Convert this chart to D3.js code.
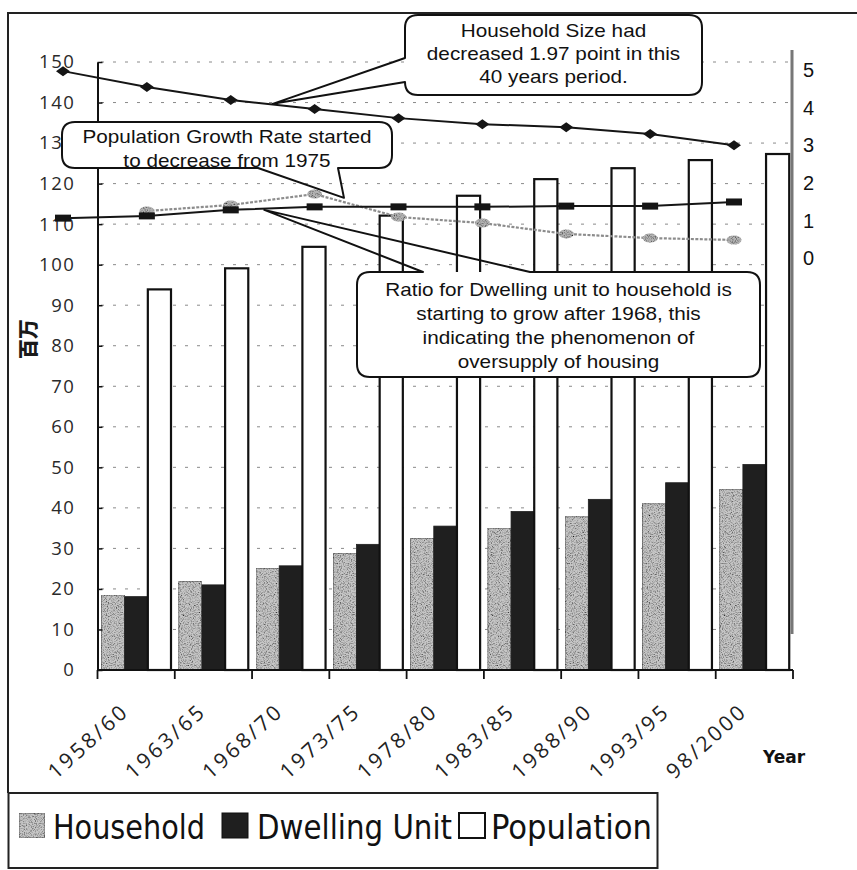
<!DOCTYPE html>
<html>
<head>
<meta charset="utf-8">
<script src="https://cdn.jsdelivr.net/npm/d3@7"></script>
<style>
  html, body { margin: 0; padding: 0; background: #fff; }
  svg { display: block; }
</style>
</head>
<body>
<div id="chart"></div>
<script>
// Housing stock, households and population (millions), with three ratio series
const categories = ["1958/60", "1963/65", "1968/70", "1973/75", "1978/80", "1983/85", "1988/90", "1993/95", "98/2000"];
const household  = [18.5, 21.8, 25.1, 28.8, 32.5, 35.0, 37.8, 41.0, 44.6];
const dwelling   = [18.1, 21.0, 25.7, 31.0, 35.5, 39.1, 42.1, 46.2, 50.7];
const population = [93.9, 99.1, 104.4, 112.1, 117.0, 121.1, 123.8, 125.8, 127.3];

// Right-axis series
const householdSize = [4.97, 4.55, 4.20, 3.96, 3.72, 3.56, 3.48, 3.30, 3.00];
const dwellingRatio = [1.06, 1.12, 1.28, 1.36, 1.36, 1.36, 1.38, 1.38, 1.49];
const popGrowth     = [null, 1.25, 1.41, 1.70, 1.09, 0.93, 0.64, 0.53, 0.48];

const leftTicks  = [0, 10, 20, 30, 40, 50, 60, 70, 80, 90, 100, 110, 120, 130, 140, 150];
const rightTicks = [0, 1, 2, 3, 4, 5];
const seriesKeys = ["Household", "Dwelling Unit", "Population"];

const W = 857, H = 870;
const svg = d3.select("#chart").append("svg").attr("width", W).attr("height", H);
const defs = svg.append("defs");

// speckled grey used for the household bars and growth-rate markers
const grain = defs.append("filter").attr("id", "grain")
  .attr("x", 0).attr("y", 0).attr("width", 1).attr("height", 1);
grain.append("feTurbulence").attr("type", "fractalNoise").attr("baseFrequency", 0.9)
  .attr("numOctaves", 2).attr("seed", 7).attr("result", "noise");
grain.append("feColorMatrix").attr("in", "noise").attr("type", "matrix")
  .attr("values", "0 0 0 0 0  0 0 0 0 0  0 0 0 0 0  2.2 0 0 0 -0.95").attr("result", "specks");
grain.append("feComposite").attr("in", "specks").attr("in2", "SourceGraphic")
  .attr("operator", "in").attr("result", "clipped");
const gm = grain.append("feMerge");
gm.append("feMergeNode").attr("in", "SourceGraphic");
gm.append("feMergeNode").attr("in", "clipped");

// scales
const y = d3.scaleLinear().domain([0, 150]).range([670, 62]);
const yR = d3.scaleLinear().domain([0, 5]).range([258, 70]);
const xBand = d3.scaleBand().domain(categories).range([97.5, 793]);
const xSub = d3.scaleBand().domain(seriesKeys).range([4, 73.5]);
const xL = d3.scalePoint().domain(categories).range([63, 734]);
const xAt = t => xL(categories[0]) + t * xL.step();

// outer frame
svg.append("path").attr("d", "M8,793 V13 H857")
  .attr("fill", "none").attr("stroke", "#222").attr("stroke-width", 2);

// dashed gridlines
svg.append("g").selectAll("line").data(leftTicks.filter(v => v > 0)).join("line")
  .attr("x1", 101).attr("x2", 789)
  .attr("y1", d => y(d)).attr("y2", d => y(d))
  .attr("stroke", "#8a8a8a").attr("stroke-width", 1).attr("stroke-dasharray", "3,9");

// bars
const barData = categories.map((c, i) => ({
  cat: c,
  vals: [
    { key: "Household", v: household[i] },
    { key: "Dwelling Unit", v: dwelling[i] },
    { key: "Population", v: population[i] }
  ]
}));
const barStyle = {
  "Household":     { fill: "#c6c6c6", stroke: "#6a6a6a", sw: 0.8, filter: "url(#grain)" },
  "Dwelling Unit": { fill: "#1f1f1f", stroke: "#1f1f1f", sw: 0.8, filter: null },
  "Population":    { fill: "#ffffff", stroke: "#111", sw: 2.2, filter: null }
};
const groups = svg.append("g").selectAll("g").data(barData).join("g")
  .attr("transform", d => `translate(${xBand(d.cat)},0)`);
groups.selectAll("rect").data(d => d.vals).join("rect")
  .attr("x", d => xSub(d.key))
  .attr("width", xSub.bandwidth())
  .attr("y", d => y(d.v))
  .attr("height", d => y(0) - y(d.v))
  .attr("fill", d => barStyle[d.key].fill)
  .attr("stroke", d => barStyle[d.key].stroke)
  .attr("stroke-width", d => barStyle[d.key].sw)
  .attr("filter", d => barStyle[d.key].filter);

// left axis
const yAxis = d3.axisLeft(y).tickValues(leftTicks).tickSize(-5).tickSizeOuter(0).tickPadding(22);
const gy = svg.append("g").attr("transform", "translate(97.5,0)").call(yAxis);
gy.select(".domain").attr("stroke", "#111").attr("stroke-width", 2);
gy.selectAll(".tick line").attr("stroke", "#111").attr("stroke-width", 1.5);
gy.selectAll(".tick text")
  .attr("font-family", "'Open Sans', sans-serif").attr("font-size", 18.5)
  .attr("letter-spacing", 1.6).attr("fill", "#2a2a2a");

// y-axis unit label
svg.append("text").attr("transform", "translate(36,339) rotate(-90)")
  .attr("text-anchor", "middle")
  .attr("font-family", "'Noto Sans CJK SC', sans-serif").attr("font-weight", 900)
  .attr("font-size", 20).attr("fill", "#1a1a1a").text("百万");

// x axis: baseline with ticks on category boundaries
const gx = svg.append("g");
gx.append("line").attr("x1", xBand.range()[0]).attr("x2", xBand.range()[1])
  .attr("y1", y(0)).attr("y2", y(0)).attr("stroke", "#111").attr("stroke-width", 2.2);
const bounds = categories.map(c => xBand(c)).concat([xBand.range()[1]]);
gx.selectAll("line.tk").data(bounds).join("line").attr("class", "tk")
  .attr("x1", d => d).attr("x2", d => d)
  .attr("y1", y(0)).attr("y2", y(0) + 9)
  .attr("stroke", "#111").attr("stroke-width", 1.8);
gx.selectAll("text").data(categories).join("text")
  .attr("transform", d => `translate(${xBand(d) + xBand.bandwidth() / 2 - 8},715) rotate(-42)`)
  .attr("text-anchor", "end")
  .attr("font-family", "'Open Sans', sans-serif").attr("font-size", 21)
  .attr("textLength", 97).attr("lengthAdjust", "spacing")
  .attr("fill", "#222").text(d => d);

svg.append("text").attr("x", 763).attr("y", 763)
  .attr("font-family", "'DejaVu Sans', sans-serif").attr("font-weight", "bold")
  .attr("font-size", 17).attr("fill", "#111").text("Year");

// right axis
svg.append("line").attr("x1", 792).attr("x2", 792).attr("y1", 50).attr("y2", 634)
  .attr("stroke", "#777").attr("stroke-width", 3);
svg.append("g").selectAll("text").data(rightTicks).join("text")
  .attr("x", 803).attr("y", d => yR(d)).attr("dy", "0.36em")
  .attr("font-family", "'Liberation Sans', Arial, sans-serif").attr("font-size", 20)
  .attr("fill", "#111").text(d => d);

// right-axis line series
const lineGen = d3.line()
  .defined(d => d != null)
  .x((d, i) => xL(categories[i]))
  .y(d => yR(d));

svg.append("path").datum(popGrowth).attr("d", lineGen)
  .attr("fill", "none").attr("stroke", "#8c8c8c").attr("stroke-width", 2.2)
  .attr("stroke-dasharray", "3,1.5");
svg.append("path").datum(dwellingRatio).attr("d", lineGen)
  .attr("fill", "none").attr("stroke", "#151515").attr("stroke-width", 2);
svg.append("path").datum(householdSize).attr("d", lineGen)
  .attr("fill", "none").attr("stroke", "#151515").attr("stroke-width", 2);

// markers
svg.append("g").selectAll("ellipse")
  .data(popGrowth.map((v, i) => ({ v, i })).filter(d => d.v != null)).join("ellipse")
  .attr("cx", d => xL(categories[d.i])).attr("cy", d => yR(d.v))
  .attr("rx", 7.5).attr("ry", 4.5)
  .attr("fill", "#b4b4b4").attr("filter", "url(#grain)");
svg.append("g").selectAll("rect")
  .data(dwellingRatio.map((v, i) => ({ v, i }))).join("rect")
  .attr("x", d => xL(categories[d.i]) - 8).attr("y", d => yR(d.v) - 3.5)
  .attr("width", 16).attr("height", 7).attr("fill", "#151515");
svg.append("g").selectAll("path")
  .data(householdSize.map((v, i) => ({ v, i }))).join("path")
  .attr("transform", d => `translate(${xL(categories[d.i])},${yR(d.v)})`)
  .attr("d", "M-7,0 L0,-5 L7,0 L0,5 Z").attr("fill", "#151515");

// callouts
const notes = [
  {
    lines: ["Household Size had", "decreased 1.97 point in this", "40 years period."],
    box: [405, 15, 702, 95], baseline: 37, step: 23,
    tail: { edge: "left", a: 58, b: 82, at: 2.5, value: 4.1 }
  },
  {
    lines: ["Population Growth Rate started", "to decrease from 1975"],
    box: [62, 122, 392, 168], baseline: 143, step: 23.5,
    tail: { edge: "bottom", a: 258, b: 338, at: 3.35, value: 1.6 }
  },
  {
    lines: ["Ratio for Dwelling unit to household is", "starting to grow after 1968, this",
            "indicating the phenomenon of", "oversupply of housing"],
    box: [357, 272, 760, 377], baseline: 296, step: 24,
    tail: { edge: "top", a: 423, b: 530, at: 2.4, value: 1.28 }
  }
];

function calloutPath(n) {
  const [x0, y0, x1, y1] = n.box, r = 13, t = n.tail;
  const ax = xAt(t.at), ay = yR(t.value);
  const p = d3.path();
  p.moveTo(x0 + r, y0);
  if (t.edge === "top") { p.lineTo(t.a, y0); p.lineTo(ax, ay); p.lineTo(t.b, y0); }
  p.lineTo(x1 - r, y0);
  p.quadraticCurveTo(x1, y0, x1, y0 + r);
  p.lineTo(x1, y1 - r);
  p.quadraticCurveTo(x1, y1, x1 - r, y1);
  if (t.edge === "bottom") { p.lineTo(t.b, y1); p.lineTo(ax, ay); p.lineTo(t.a, y1); }
  p.lineTo(x0 + r, y1);
  p.quadraticCurveTo(x0, y1, x0, y1 - r);
  if (t.edge === "left") { p.lineTo(x0, t.b); p.lineTo(ax, ay); p.lineTo(x0, t.a); }
  p.lineTo(x0, y0 + r);
  p.quadraticCurveTo(x0, y0, x0 + r, y0);
  p.closePath();
  return p.toString();
}

const cg = svg.append("g").selectAll("g").data(notes).join("g");
cg.append("rect")
  .attr("x", d => d.box[0]).attr("y", d => d.box[1])
  .attr("width", d => d.box[2] - d.box[0]).attr("height", d => d.box[3] - d.box[1])
  .attr("rx", 13).attr("fill", "#fff");
cg.append("path").attr("d", calloutPath)
  .attr("fill", "none").attr("stroke", "#111").attr("stroke-width", 2)
  .attr("stroke-linejoin", "round");
cg.each(function (d) {
  const g = d3.select(this);
  const cx = (d.box[0] + d.box[2]) / 2;
  d.lines.forEach((ln, i) => {
    const t = g.append("text").attr("x", cx).attr("y", d.baseline + i * d.step)
      .attr("text-anchor", "middle")
      .attr("font-family", "'Liberation Sans', Arial, sans-serif")
      .attr("font-size", 19).attr("fill", "#111").text(ln);
    const len = t.node().getComputedTextLength();
    t.attr("textLength", len * 1.09).attr("lengthAdjust", "spacingAndGlyphs");
  });
});

// legend
const lg = svg.append("g");
lg.append("rect").attr("x", 8.5).attr("y", 793).attr("width", 649).attr("height", 75)
  .attr("fill", "#fff").attr("stroke", "#222").attr("stroke-width", 2);
const legendItems = [
  { key: "Household",     sx: 19, tx: 53,  tw: 152 },
  { key: "Dwelling Unit", sx: 222, tx: 257, tw: 195 },
  { key: "Population",    sx: 459, tx: 491, tw: 161 }
];
legendItems.forEach(it => {
  const st = barStyle[it.key];
  lg.append("rect").attr("x", it.sx).attr("y", 813).attr("width", 26).attr("height", 25)
    .attr("fill", st.fill).attr("stroke", it.key === "Household" ? "#666" : "#111")
    .attr("stroke-width", it.key === "Population" ? 2 : 1)
    .attr("filter", st.filter);
  lg.append("text").attr("x", it.tx).attr("y", 839)
    .attr("font-family", "'Liberation Sans Narrow', 'DejaVu Sans Condensed', 'Open Sans', sans-serif")
    .attr("font-size", 34).attr("fill", "#111")
    .attr("textLength", it.tw).attr("lengthAdjust", "spacingAndGlyphs")
    .text(it.key);
});
</script>
</body>
</html>
